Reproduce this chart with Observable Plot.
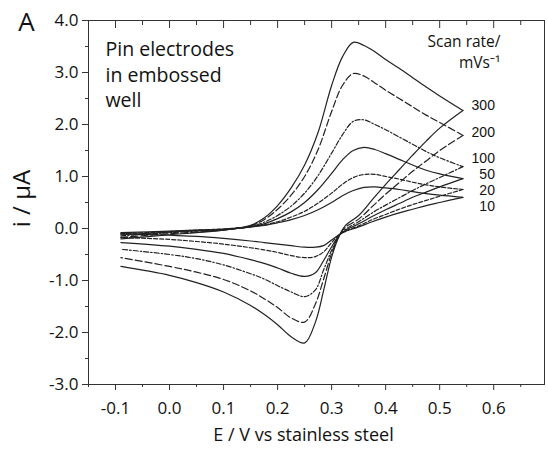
<!DOCTYPE html>
<html><head><meta charset="utf-8">
<script src="https://cdn.jsdelivr.net/npm/d3@7"></script>
<script src="https://cdn.jsdelivr.net/npm/@observablehq/plot@0.6"></script>
<style>
body{margin:0;background:#fff;}
#chart{width:548px;height:454px;}
</style></head><body><div id="chart"></div>
<script>
// Scan rates (mV/s)
const rates = ["300", "200", "100", "50", "20", "10"];
// Potentials (V vs stainless steel) for forward (anodic) and reverse (cathodic) sweeps
const eForward = [-0.09, 0, 0.05, 0.1, 0.15, 0.175, 0.2, 0.225, 0.25, 0.275, 0.3, 0.32, 0.34, 0.36, 0.38, 0.4, 0.425, 0.45, 0.475, 0.5, 0.543];
const eReverse = [0.543, 0.5, 0.475, 0.45, 0.425, 0.4, 0.375, 0.35, 0.325, 0.315, 0.3, 0.285, 0.27, 0.25, 0.225, 0.2, 0.175, 0.15, 0.1, 0.05, 0, -0.09];
// Currents (µA), forward sweep
const fwd300 = [-0.2, -0.12, -0.08, -0.03, 0.06, 0.2, 0.44, 0.78, 1.22, 1.85, 2.75, 3.3, 3.58, 3.52, 3.4, 3.25, 3.08, 2.9, 2.72, 2.55, 2.27];
const fwd200 = [-0.17, -0.1, -0.07, -0.03, 0.05, 0.17, 0.37, 0.64, 1.0, 1.52, 2.25, 2.75, 2.98, 2.93, 2.8, 2.66, 2.5, 2.34, 2.18, 2.04, 1.79];
const fwd100 = [-0.14, -0.08, -0.05, -0.02, 0.04, 0.12, 0.25, 0.43, 0.68, 1.02, 1.45, 1.8, 2.06, 2.09, 2.0, 1.9, 1.76, 1.62, 1.48, 1.36, 1.19];
const fwd50  = [-0.12, -0.07, -0.04, -0.02, 0.03, 0.09, 0.19, 0.32, 0.5, 0.75, 1.06, 1.32, 1.5, 1.56, 1.52, 1.44, 1.33, 1.22, 1.12, 1.05, 0.96];
const fwd20  = [-0.1, -0.06, -0.03, -0.01, 0.03, 0.07, 0.13, 0.22, 0.33, 0.49, 0.68, 0.85, 0.98, 1.04, 1.04, 1.0, 0.95, 0.89, 0.84, 0.8, 0.75];
const fwd10  = [-0.08, -0.05, -0.03, -0.01, 0.03, 0.06, 0.11, 0.17, 0.25, 0.36, 0.5, 0.63, 0.73, 0.79, 0.8, 0.78, 0.75, 0.71, 0.67, 0.64, 0.6];
// Currents (µA), reverse sweep
const rev300 = [2.27, 1.93, 1.68, 1.41, 1.13, 0.85, 0.55, 0.25, 0.05, -0.12, -0.55, -1.2, -1.8, -2.2, -2.08, -1.85, -1.65, -1.48, -1.22, -1.04, -0.9, -0.73];
const rev200 = [1.79, 1.5, 1.3, 1.1, 0.88, 0.66, 0.42, 0.18, 0.02, -0.12, -0.48, -0.98, -1.45, -1.8, -1.72, -1.52, -1.35, -1.2, -0.98, -0.84, -0.73, -0.56];
const rev100 = [1.19, 0.98, 0.86, 0.73, 0.59, 0.45, 0.3, 0.13, -0.02, -0.12, -0.42, -0.8, -1.18, -1.31, -1.22, -1.1, -0.97, -0.87, -0.7, -0.58, -0.5, -0.4];
const rev50  = [0.96, 0.8, 0.7, 0.6, 0.48, 0.36, 0.23, 0.09, -0.04, -0.12, -0.35, -0.62, -0.85, -0.92, -0.86, -0.76, -0.67, -0.6, -0.48, -0.4, -0.34, -0.27];
const rev20  = [0.75, 0.62, 0.54, 0.46, 0.37, 0.27, 0.17, 0.05, -0.05, -0.11, -0.27, -0.45, -0.54, -0.56, -0.52, -0.46, -0.41, -0.37, -0.3, -0.25, -0.21, -0.17];
const rev10  = [0.6, 0.5, 0.44, 0.37, 0.3, 0.22, 0.13, 0.03, -0.06, -0.11, -0.22, -0.33, -0.36, -0.36, -0.33, -0.3, -0.27, -0.24, -0.19, -0.15, -0.13, -0.1];
// Axis ticks
const xTicks = [-0.1, 0.0, 0.1, 0.2, 0.3, 0.4, 0.5, 0.6];
const xMinor = [-0.15, -0.05, 0.05, 0.15, 0.25, 0.35, 0.45, 0.55, 0.65];
const yTicks = [-3, -2, -1, 0, 1, 2, 3, 4];
const yMinor = [-2.5, -1.5, -0.5, 0.5, 1.5, 2.5, 3.5];

const fwd = {"300": fwd300, "200": fwd200, "100": fwd100, "50": fwd50, "20": fwd20, "10": fwd10};
const rev = {"300": rev300, "200": rev200, "100": rev100, "50": rev50, "20": rev20, "10": rev10};
const rows = rates.flatMap(r => [
  ...eForward.map((e, j) => ({E: e, I: fwd[r][j], rate: r, branch: "f"})),
  ...eReverse.map((e, j) => ({E: e, I: rev[r][j], rate: r, branch: "r"}))
]);
const vertices = rates.map(r => ({rate: r, E: eForward[eForward.length - 1], I: fwd[r][fwd[r].length - 1]}));

const dash = {"300": null, "200": "7,3", "100": "5,2,1.5,2", "50": null, "20": "4,2", "10": null};
const labelDy = {"300": -5, "200": -3, "100": -8, "50": -4, "20": 1, "10": 9};
const ink = "#222";
const FONT = "'Open Sans', 'Noto Sans', sans-serif";
const fmt = d => d.toFixed(1);

const marks = [
  Plot.frame({stroke: "#333", strokeWidth: 1}),
  Plot.axisX(xTicks, {anchor: "bottom", tickSize: 6, tickPadding: 11, tickFormat: fmt, fontSize: 17, label: null, stroke: "#333"}),
  Plot.axisX(xMinor, {anchor: "bottom", tickSize: 3, tickFormat: () => "", label: null, stroke: "#333"}),
  Plot.axisX(xTicks, {anchor: "top", tickSize: -7, tickFormat: () => "", label: null, stroke: "#333"}),
  Plot.axisX(xMinor, {anchor: "top", tickSize: -4, tickFormat: () => "", label: null, stroke: "#333"}),
  Plot.axisY(yTicks, {anchor: "left", tickSize: 6, tickPadding: 4, tickFormat: fmt, fontSize: 17, label: null, stroke: "#333"}),
  Plot.axisY(yMinor, {anchor: "left", tickSize: 3, tickFormat: () => "", label: null, stroke: "#333"}),
  ...rates.map(r => Plot.line(rows.filter(d => d.rate === r), {
    x: "E", y: "I", z: "branch", curve: "catmull-rom",
    stroke: ink, strokeWidth: 1.2, strokeDasharray: dash[r]
  })),
  ...rates.map(r => Plot.text(vertices.filter(d => d.rate === r), {
    x: "E", y: "I", text: "rate", textAnchor: "end", lineAnchor: "middle",
    dx: 32, dy: labelDy[r], fontSize: 14, fontFamily: "'Liberation Sans', Arial, sans-serif", fill: "#111"
  })),
  Plot.text(["Scan rate/\nmVs⁻¹"], {frameAnchor: "top-right", dx: -44, dy: 30, textAnchor: "end", lineAnchor: "middle", lineHeight: 1.4, fontSize: 15.5, fill: "#111"}),
  Plot.text(["Pin electrodes\nin embossed\nwell"], {frameAnchor: "top-left", dx: 17, dy: 53, textAnchor: "start", lineAnchor: "middle", lineHeight: 1.3, fontSize: 19.5, fill: "#111"}),
  Plot.text(["A"], {frameAnchor: "top-left", dx: -62, dy: 2, textAnchor: "middle", lineAnchor: "middle", fontSize: 26, fill: "#111"}),
  Plot.text(["i / µA"], {frameAnchor: "left", dx: -66, dy: -4, rotate: -90, textAnchor: "middle", lineAnchor: "middle", fontSize: 24, fill: "#111"}),
  Plot.text(["E / V vs stainless steel"], {frameAnchor: "bottom", dx: -13, dy: 51, textAnchor: "middle", lineAnchor: "middle", fontSize: 18, fill: "#111"})
];

const chart = Plot.plot({
  width: 548, height: 454,
  marginLeft: 88, marginRight: 4, marginTop: 20, marginBottom: 70,
  style: {fontFamily: FONT, background: "#fff", color: "#111"},
  x: {domain: [-0.15, 0.694], axis: null},
  y: {domain: [-3, 4], axis: null},
  marks
});
document.getElementById("chart").appendChild(chart);
</script></body></html>
